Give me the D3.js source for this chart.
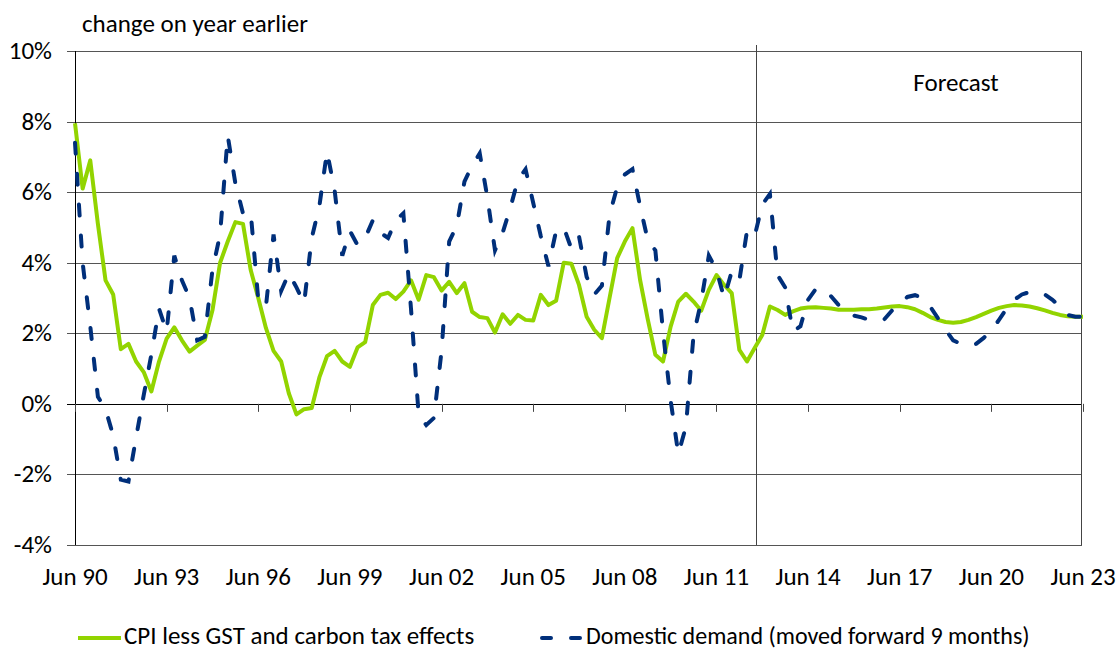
<!DOCTYPE html>
<html>
<head>
<meta charset="utf-8">
<script src="https://cdn.jsdelivr.net/npm/d3@7"></script>
<style>
  body { margin: 0; background: #fff; }
  svg text { font-family: Carlito, Calibri, Lato, "Open Sans", sans-serif; fill: #000; font-size: 25px; }
</style>
</head>
<body>
<div id="vis"></div>
<script>
// quarterly, Jun 90 .. Jun 23 (index 0..132)
const cpi = [7.95, 6.1, 6.9, 5.1, 3.5, 3.1, 1.55, 1.7, 1.2, 0.9, 0.35, 1.2, 1.85, 2.17, 1.8, 1.48, 1.65, 1.81, 2.65, 4.0,
  4.6, 5.15, 5.1, 3.8, 3.0, 2.15, 1.5, 1.2, 0.3, -0.3, -0.15, -0.12, 0.75, 1.35, 1.5, 1.2, 1.05, 1.6, 1.75, 2.8,
  3.09, 3.15, 2.97, 3.18, 3.5, 2.95, 3.65, 3.59, 3.21, 3.46, 3.14, 3.42, 2.61, 2.46, 2.43, 2.02, 2.54, 2.27, 2.52, 2.38,
  2.36, 3.09, 2.8, 2.92, 4.0, 3.97, 3.37, 2.47, 2.1, 1.86, 3.0, 4.13, 4.6, 4.98, 3.51, 2.4, 1.39, 1.2, 2.19, 2.9,
  3.12, 2.9, 2.64, 3.23, 3.65, 3.37, 3.14, 1.53, 1.2, 1.58, 1.95, 2.76, 2.66, 2.52, 2.62, 2.7, 2.73, 2.74, 2.72, 2.7,
  2.67, 2.67, 2.67, 2.68, 2.68, 2.7, 2.73, 2.76, 2.77, 2.74, 2.68, 2.58, 2.46, 2.38, 2.32, 2.3, 2.32, 2.38, 2.46, 2.55,
  2.64, 2.72, 2.77, 2.8, 2.79, 2.76, 2.71, 2.65, 2.58, 2.52, 2.48, 2.47, 2.47];

const demand = [7.4, 4.0, 2.2, 0.2, -0.15, -0.9, -2.15, -2.2, -0.95, 0.25, 1.4, 2.7, 2.05, 4.2, 3.5, 3.0, 1.8, 1.9, 3.8, 4.8,
  7.6, 6.25, 5.4, 5.45, 2.95, 2.75, 4.8, 3.2, 3.7, 3.3, 2.85, 4.7, 5.6, 7.15, 6.05, 4.2, 4.9, 4.5, 4.7, 5.2,
  4.85, 4.7, 5.2, 5.4, 2.7, -0.3, -0.6, -0.4, 1.5, 4.6, 5.05, 6.3, 6.75, 7.1, 5.85, 4.35, 4.85, 5.55, 6.35, 6.65,
  5.7, 4.75, 3.9, 4.9, 5.0, 4.4, 4.75, 3.6, 3.1, 3.35, 5.35, 6.15, 6.5, 6.65, 5.6, 4.65, 4.35, 2.05, 0.1, -1.42,
  -0.65, 1.95, 2.9, 4.2, 3.8, 3.0, 3.75, 3.5, 4.9, 4.75, 5.65, 5.95, 3.65, 3.3, 2.05, 2.2, 2.95, 3.25, 3.25, 3.05,
  2.8, 2.6, 2.5, 2.45, 2.38, 2.35, 2.4, 2.65, 2.85, 3.03, 3.08, 3.0, 2.75, 2.43, 2.1, 1.8, 1.7, 1.65, 1.7, 1.87,
  2.07, 2.38, 2.7, 2.95, 3.1, 3.17, 3.17, 3.1, 2.95, 2.75, 2.52, 2.47, 2.47];

const xTickLabels = ["Jun 90", "Jun 93", "Jun 96", "Jun 99", "Jun 02", "Jun 05", "Jun 08", "Jun 11", "Jun 14", "Jun 17", "Jun 20", "Jun 23"];
const yTicks = [-4, -2, 0, 2, 4, 6, 8, 10];
const forecastStart = 89.2; // quarter index (around Sep 2012)
const seriesNames = ["CPI less GST and carbon tax effects", "Domestic demand (moved forward 9 months)"];

const width = 1116, height = 650;
const margin = {top: 51, right: 34, bottom: 105, left: 75};

const svg = d3.select("#vis").append("svg")
    .attr("width", width)
    .attr("height", height);

const x = d3.scaleLinear().domain([0, 132]).range([margin.left, width - margin.right + 1]);
const y = d3.scaleLinear().domain([-4, 10]).range([height - margin.bottom, margin.top]);

// gridlines
svg.append("g")
    .selectAll("line")
    .data(yTicks)
    .enter().append("line")
    .attr("x1", x(0) - 8)
    .attr("x2", x(132) - 1)
    .attr("y1", d => Math.round(y(d)) + 0.5)
    .attr("y2", d => Math.round(y(d)) + 0.5)
    .attr("stroke", d => d === 0 ? "#000" : "#555")
    .attr("stroke-width", 1);

// y labels
svg.append("g")
    .selectAll("text")
    .data(yTicks)
    .enter().append("text")
    .attr("x", 52)
    .attr("y", d => y(d) + 8)
    .attr("text-anchor", "end")
    .text(d => d + "%");

// left axis + right border
svg.append("line")
    .attr("x1", x(0) + 0.5).attr("x2", x(0) + 0.5)
    .attr("y1", y(10)).attr("y2", y(-4))
    .attr("stroke", "#000");
svg.append("line")
    .attr("x1", x(132) - 1.5).attr("x2", x(132) - 1.5)
    .attr("y1", y(10)).attr("y2", y(-4))
    .attr("stroke", "#444");

// x ticks on the zero line
svg.append("g")
    .selectAll("line")
    .data(xTickLabels)
    .enter().append("line")
    .attr("x1", (d, i) => Math.round(x(i * 12)) + 0.5)
    .attr("x2", (d, i) => Math.round(x(i * 12)) + 0.5)
    .attr("y1", y(0))
    .attr("y2", y(0) + 8)
    .attr("stroke", "#444");

svg.append("g")
    .selectAll("text")
    .data(xTickLabels)
    .enter().append("text")
    .attr("x", (d, i) => x(i * 12))
    .attr("y", 585)
    .attr("text-anchor", "middle")
    .text(d => d);

// forecast divider
svg.append("line")
    .attr("x1", Math.round(x(forecastStart)) + 0.5)
    .attr("x2", Math.round(x(forecastStart)) + 0.5)
    .attr("y1", 45)
    .attr("y2", y(-4))
    .attr("stroke", "#444");

svg.append("text")
    .attr("x", 956)
    .attr("y", 91)
    .attr("text-anchor", "middle")
    .text("Forecast");

svg.append("text")
    .attr("x", 82)
    .attr("y", 32)
    .text("change on year earlier");

// series
const line = d3.line()
    .x((d, i) => x(i))
    .y(d => y(d));

svg.append("path")
    .datum(cpi)
    .attr("fill", "none")
    .attr("stroke", "#92d400")
    .attr("stroke-width", 4)
    .attr("stroke-linejoin", "round")
    .attr("d", line);

svg.append("path")
    .datum(demand)
    .attr("fill", "none")
    .attr("stroke", "#002f7a")
    .attr("stroke-width", 4)
    .attr("stroke-linecap", "round")
    .attr("stroke-dasharray", "11,20")
    .attr("d", line);

// legend
const legend = svg.append("g");
legend.append("line")
    .attr("x1", 78).attr("x2", 121)
    .attr("y1", 638).attr("y2", 638)
    .attr("stroke", "#92d400")
    .attr("stroke-width", 4);
legend.append("text")
    .attr("x", 124).attr("y", 644)
    .text(seriesNames[0]);

legend.append("line")
    .attr("x1", 542).attr("x2", 581)
    .attr("y1", 638).attr("y2", 638)
    .attr("stroke", "#002f7a")
    .attr("stroke-width", 4)
    .attr("stroke-linecap", "round")
    .attr("stroke-dasharray", "9,20");
legend.append("text")
    .attr("x", 586).attr("y", 644)
    .style("font-size", "24px")
    .text(seriesNames[1]);
</script>
</body>
</html>
